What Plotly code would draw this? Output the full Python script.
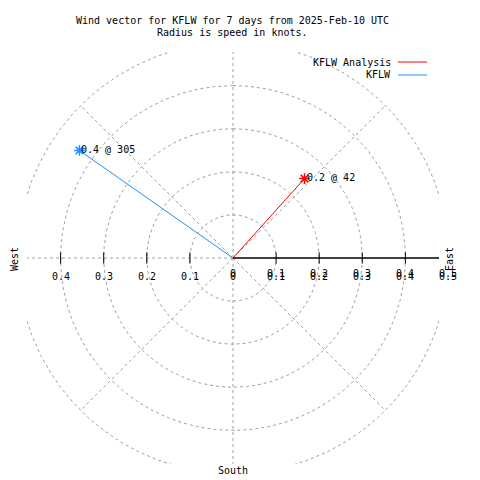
import numpy as np
import plotly.graph_objects as go

# ---- data ----
series_names = ["KFLW Analysis", "KFLW"]
series_colors = ["#ff0000", "#1e90ff"]
speeds_kt = [0.248, 0.435]
directions_deg = [42, 305]
radial_ticks = [0.1, 0.2, 0.3, 0.4, 0.5]
grid_angles_deg = [0, 45, 90, 135, 180, 225, 270, 315]
title_lines = ["Wind vector for KFLW for 7 days from 2025-Feb-10 UTC",
               "Radius is speed in knots."]

FONT = "DejaVu Sans Mono"
OFF = 8  # page body margin in the browser
W = H = 480
L, T = 27 - OFF, 52 - OFF
PW = PH = 412
R = W - L - PW
B = H - T - PH
RMAX = 0.478

def px_x(px):
    return (px - OFF - L) / PW

def px_y(py):
    return (T + PH - (py - OFF)) / PH

def data_to_paper_x(v):
    return (v + RMAX) / (2 * RMAX)

fig = go.Figure()
shapes = []
ann = []
GRIDLINE = dict(color="#a0a0a0", width=1, dash="3px,3px")

# grid circles (as lines so they are clipped to the square plot area)
theta = np.linspace(0, 2 * np.pi, 721)
for r in radial_ticks:
    fig.add_trace(go.Scatter(x=r * np.sin(theta), y=r * np.cos(theta), mode="lines",
                             line=GRIDLINE, showlegend=False, hoverinfo="skip"))
# radial grid lines
for a in grid_angles_deg:
    if a == 90:
        continue  # east half drawn as solid axis
    rad = np.deg2rad(a)
    fig.add_trace(go.Scatter(x=[0, 0.5 * np.sin(rad)], y=[0, 0.5 * np.cos(rad)], mode="lines",
                             line=GRIDLINE, showlegend=False, hoverinfo="skip"))
# solid radial axis to the east
fig.add_trace(go.Scatter(x=[0, 0.5], y=[0, 0], mode="lines",
                         line=dict(color="black", width=1.3), showlegend=False, hoverinfo="skip"))
# tick marks
tx = [t for t in radial_ticks[:4]] + [-t for t in radial_ticks[:4]]
fig.add_trace(go.Scatter(x=tx, y=[0] * len(tx), mode="markers",
                         marker=dict(symbol="line-ns", size=8, line=dict(color="black", width=1)),
                         showlegend=False, hoverinfo="skip"))

# vectors
for name, col, s, d in zip(series_names, series_colors, speeds_kt, directions_deg):
    rad = np.deg2rad(d)
    ex, ey = s * np.sin(rad), s * np.cos(rad)
    fig.add_trace(go.Scatter(x=[0, ex], y=[0, ey], mode="lines",
                             line=dict(color=col, width=1), name=name,
                             showlegend=False, hoverinfo="skip"))
    fig.add_trace(go.Scatter(x=[ex], y=[ey], mode="markers",
                             marker=dict(symbol="asterisk", size=9, line=dict(color=col, width=1.5)),
                             showlegend=False, hoverinfo="skip"))
    ann.append(dict(x=ex, y=ey, xref="x", yref="y", text=f"{s:.1f} @ {d}", showarrow=False,
                    xanchor="left", yanchor="middle", xshift=0, yshift=1,
                    font=dict(family=FONT, size=10, color="black")))

# tick labels (paper coords so the outermost one is not hidden)
lblfont = dict(family=FONT, size=10, color="black")
for t in radial_ticks[:4]:
    ann.append(dict(x=data_to_paper_x(-t), y=0.5, xref="paper", yref="paper", text=f"{t:g}",
                    showarrow=False, xanchor="center", yanchor="middle", yshift=-18, font=lblfont))
for t in [0] + radial_ticks:
    for ys in (-15, -18):
        ann.append(dict(x=data_to_paper_x(t), y=0.5, xref="paper", yref="paper", text=f"{t:g}",
                        showarrow=False, xanchor="center", yanchor="middle", yshift=ys, font=lblfont))

# compass labels
ann.append(dict(x=px_x(14), y=px_y(259), xref="paper", yref="paper", text="West", showarrow=False,
                textangle=-90, xanchor="center", yanchor="middle", font=lblfont))
ann.append(dict(x=px_x(449), y=px_y(259), xref="paper", yref="paper", text="East", showarrow=False,
                textangle=-90, xanchor="center", yanchor="middle", font=lblfont))
ann.append(dict(x=px_x(233), y=px_y(470), xref="paper", yref="paper", text="South", showarrow=False,
                xanchor="center", yanchor="middle", font=lblfont))

# title
for i, line in enumerate(title_lines):
    ann.append(dict(x=px_x(232), y=px_y(20 + 13 * i), xref="paper", yref="paper", text=line,
                    showarrow=False, xanchor="center", yanchor="middle", font=lblfont))

# legend (manual, text left of line)
for i, (name, col) in enumerate(zip(series_names, series_colors)):
    yy = 62 + 13 * i
    ann.append(dict(x=px_x(393), y=px_y(yy), xref="paper", yref="paper", text=name,
                    showarrow=False, xanchor="right", yanchor="middle", font=lblfont))
    shapes.append(dict(type="line", xref="paper", yref="paper", x0=px_x(398), x1=px_x(427),
                       y0=px_y(yy), y1=px_y(yy), line=dict(color=col, width=1)))

fig.update_layout(
    width=W, height=H, margin=dict(l=L, r=R, t=T, b=B, pad=0, autoexpand=False),
    paper_bgcolor="white", plot_bgcolor="white",
    xaxis=dict(range=[-RMAX, RMAX], visible=False, fixedrange=True),
    yaxis=dict(range=[-RMAX, RMAX], visible=False, fixedrange=True),
    shapes=shapes, annotations=ann, showlegend=False,
)
fig.write_html("out.html")
